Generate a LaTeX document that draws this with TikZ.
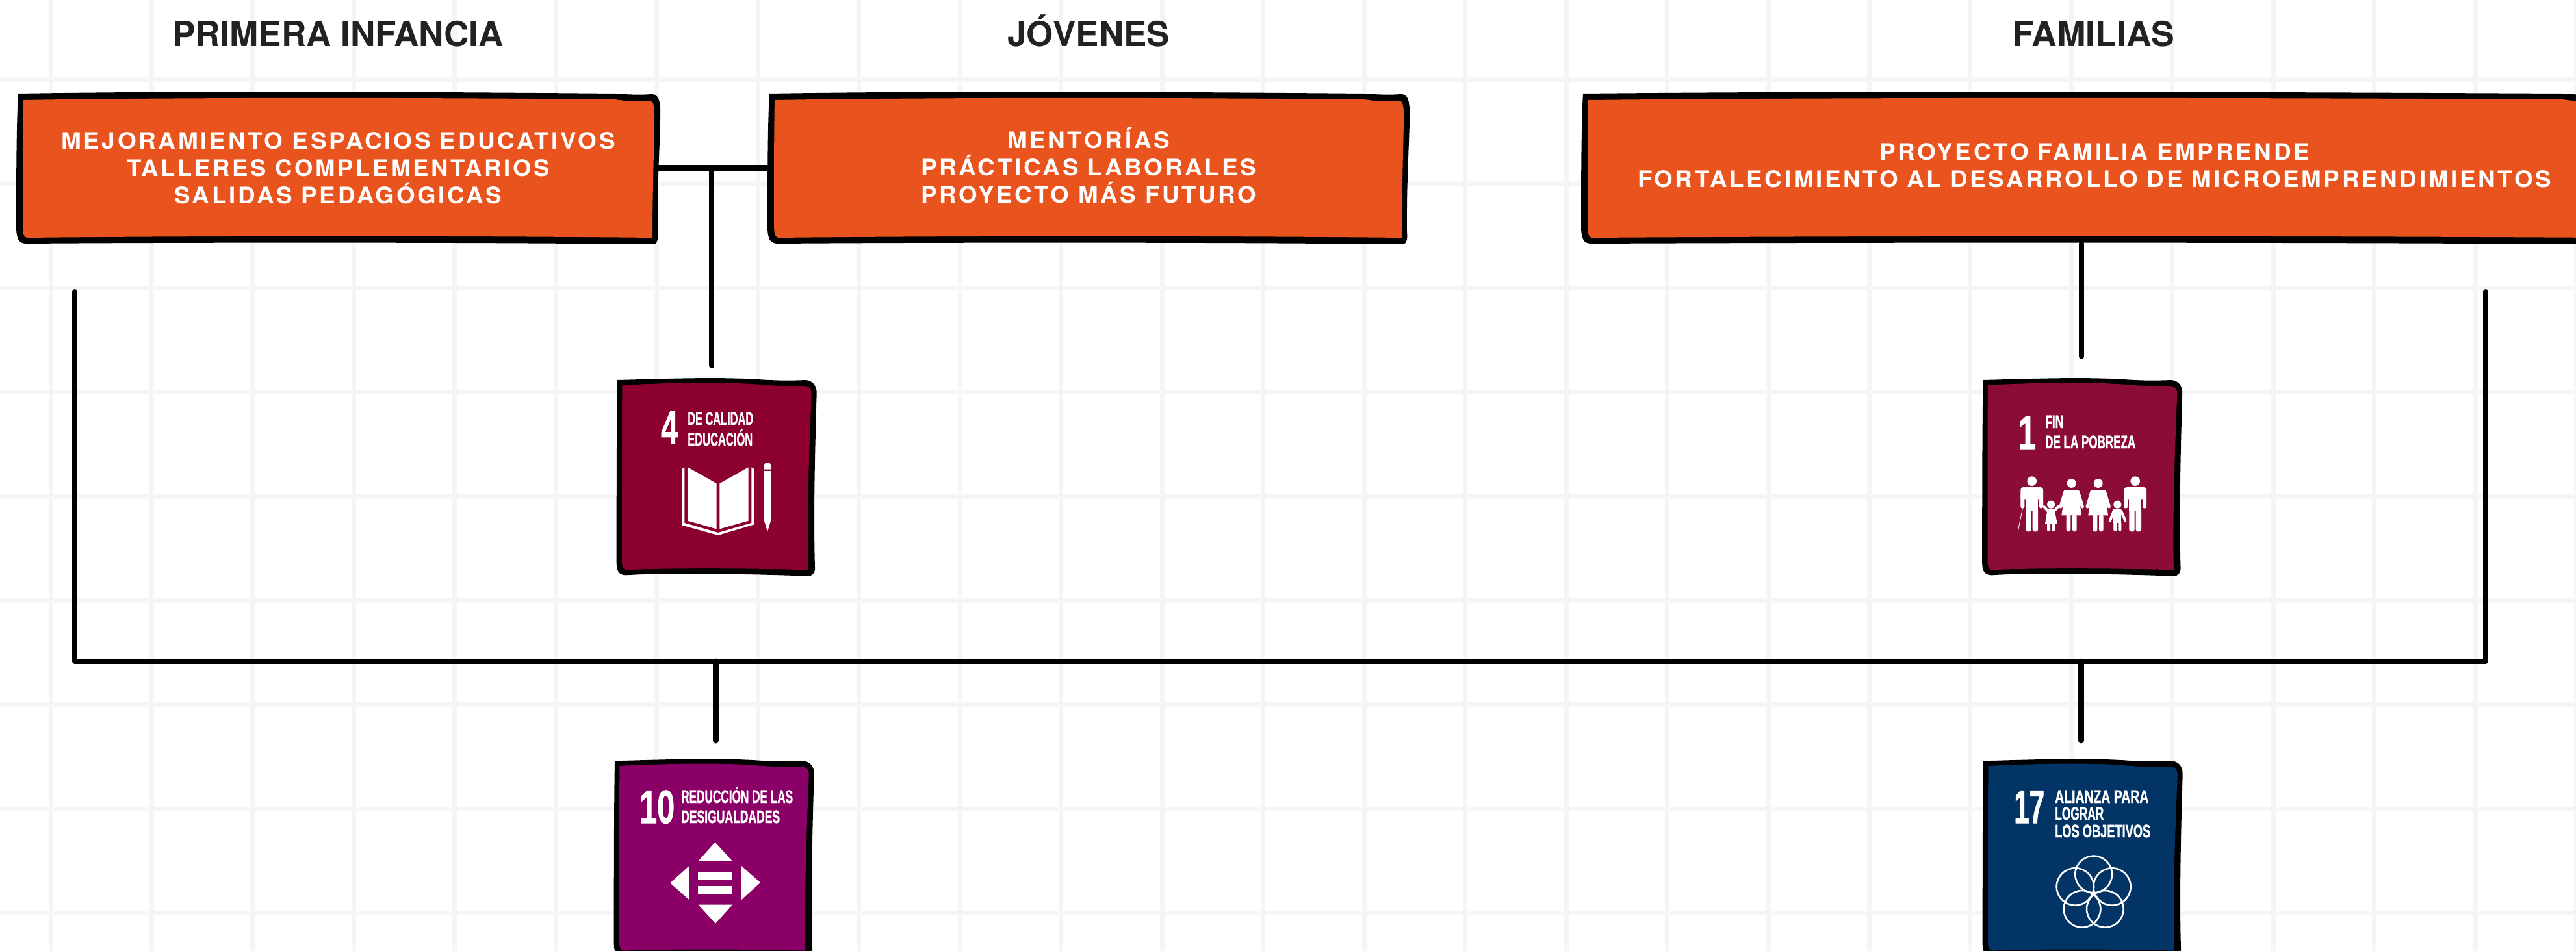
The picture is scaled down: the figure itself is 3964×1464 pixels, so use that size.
\documentclass[tikz,border=0pt]{standalone}
\usepackage{graphicx}
\usepackage{fontspec}
\usetikzlibrary{calc}
\setmainfont{TeX Gyre Heros}
\newfontfamily\boxf[LetterSpace=10]{TeX Gyre Heros}
\newfontfamily\odsf[BoldFeatures={FakeBold=1.5}]{Liberation Sans}
\definecolor{gridc}{HTML}{F5F5F5}
\definecolor{orangec}{HTML}{E9541E}
\definecolor{titlec}{HTML}{222222}
\definecolor{odsfour}{HTML}{8B002D}
\definecolor{odsone}{HTML}{8C0C38}
\definecolor{odsten}{HTML}{8B0066}
\definecolor{odsseventeen}{HTML}{023565}
\newsavebox\xfitbox
\newcommand\xfit[2]{\sbox\xfitbox{#2}\pgfmathsetmacro\xfitr{#1/(\the\wd\xfitbox)}\scalebox{\xfitr}[1]{\usebox\xfitbox}}
\tikzset{
  titletext/.style={anchor=base,inner sep=0,text=titlec,font=\bfseries\fontsize{53}{53}\selectfont},
  boxnode/.style={inner sep=0,align=center,text=white,minimum height=233pt,font=\boxf\bfseries\fontsize{35}{42}\selectfont},
  odsnode/.style={inner sep=0,minimum width=306pt,minimum height=302pt},
  odssmall/.style={anchor=base west,inner sep=0,text=white,font=\odsf\bfseries\fontsize{28}{28}\selectfont},
  odsbig/.style={anchor=base west,inner sep=0,text=white,font=\odsf\bfseries\fontsize{72}{72}\selectfont},
  wire/.style={draw=black,line width=8pt,line cap=round,line join=round},
}
\newcommand\wideshape[4]{% x0, y0, W, colour
 \begin{scope}[shift={(#1,#2)}]
  \def\W{#3}
  \fill[black] (3,2) .. controls (.25*\W,-2) and (.6*\W,-1) .. (\W-70,2)
   .. controls (\W-45,4) and (\W-30,4) .. (\W-12,3)
   .. controls (\W-4,4) and (\W-1,10) .. (\W,25)
   .. controls (\W+1,60) and (\W-5,130) .. (\W-4,215)
   .. controls (\W-3,225) and (\W-4,232) .. (\W-9,234)
   .. controls (.7*\W,231) and (.3*\W,231) .. (14,233)
   .. controls (5,232) and (1,228) .. (0,210)
   .. controls (0,150) and (0,50) .. (3,2) -- cycle;
  \fill[#4] (11,12) .. controls (.25*\W,8) and (.6*\W,8) .. (\W-70,11)
   .. controls (\W-50,14) and (\W-35,15) .. (\W-16,13)
   .. controls (\W-11,14) and (\W-9,19) .. (\W-9,35)
   .. controls (\W-9,70) and (\W-12,150) .. (\W-12,224)
   .. controls (.7*\W,221) and (.3*\W,221) .. (17,224)
   .. controls (13,224) and (10,220) .. (10,205)
   .. controls (10,150) and (10,50) .. (11,12) -- cycle;
 \end{scope}}
\newcommand\odsshape[3]{% shift x, shift y, colour
 \begin{scope}[shift={(#1,#2)},scale=1/3]
  \fill[black] (150,75) .. controls (350,70) and (600,60) .. (800,72)
   .. controls (880,78) and (950,78) .. (1020,75)
   .. controls (1050,78) and (1072,100) .. (1070,140)
   .. controls (1062,400) and (1055,700) .. (1062,940)
   .. controls (1064,965) and (1050,980) .. (1030,980)
   .. controls (800,972) and (400,962) .. (190,976)
   .. controls (160,975) and (146,960) .. (146,920)
   .. controls (146,700) and (146,300) .. (150,75) -- cycle;
  \fill[#3] (172,98) .. controls (400,88) and (600,82) .. (800,95)
   .. controls (860,102) and (950,104) .. (1015,102)
   .. controls (1040,104) and (1048,120) .. (1046,150)
   .. controls (1035,400) and (1025,700) .. (1030,952)
   .. controls (800,945) and (400,942) .. (190,952)
   .. controls (178,950) and (172,940) .. (171,915)
   .. controls (171,700) and (171,300) .. (172,98) -- cycle;
 \end{scope}}
\newcommand\manfig[1]{%
  \fill (#1,542) circle[radius=22];
  \fill[rounded corners=4pt] (#1-52,570) rectangle (#1+52,625);
  \fill[rounded corners=3pt] (#1-52,600) rectangle (#1-34,668);
  \fill[rounded corners=3pt] (#1+34,600) rectangle (#1+52,668);
  \fill (#1-28,590) rectangle (#1+28,680);
  \fill[rounded corners=3pt] (#1-28,670) rectangle (#1-3,775);
  \fill[rounded corners=3pt] (#1+3,670) rectangle (#1+28,775);}
\newcommand\womanfig[1]{%
  \fill (#1,552) circle[radius=21];
  \fill (#1-30,583) -- (#1+30,583) -- (#1+46,700) -- (#1-46,700) -- cycle;
  \draw[white,line width=5pt,line cap=round] (#1-30,592) -- (#1-50,660);
  \draw[white,line width=5pt,line cap=round] (#1+30,592) -- (#1+50,660);
  \fill[rounded corners=3pt] (#1-24,695) rectangle (#1-4,775);
  \fill[rounded corners=3pt] (#1+4,695) rectangle (#1+24,775);}
\begin{document}
\begin{tikzpicture}[x=1pt,y=-1pt]
\clip (0,0) rectangle (3964,1464);
\fill[white] (0,0) rectangle (3964,1464);
% grid
\foreach \k in {0,...,25} \fill[gridc] ({78+155.47*\k-3.5},0) rectangle ({78+155.47*\k+3.5},1464);
\foreach \k in {0,...,8} \fill[gridc] (0,{122.5+160.4*\k-3.5}) rectangle (3964,{122.5+160.4*\k+3.5});
% titles
\node[titletext] (tpi) at (520,71) {\xfit{510}{PRIMERA INFANCIA}};
\node[titletext] (tjo) at (1675,71) {\xfit{250}{JÓVENES}};
\node[titletext] (tfa) at (3222,71) {\xfit{249}{FAMILIAS}};
% hand-drawn boxes
\wideshape{25}{142}{991}{orangec}
\wideshape{1181}{142}{988}{orangec}
\wideshape{2433}{142}{1580}{orangec}
\node[boxnode,minimum width=991pt] (b1) at (520.5,258.5) {\xfit{853}{MEJORAMIENTO ESPACIOS EDUCATIVOS}\\\xfit{651}{TALLERES COMPLEMENTARIOS}\\\xfit{504}{SALIDAS PEDAGÓGICAS}};
\node[boxnode,minimum width=988pt] (b2) at (1675,258.5) {\rule{0pt}{25pt}\smash{\xfit{250}{MENTORÍAS}}\\\xfit{516}{PRÁCTICAS LABORALES}\\\xfit{516}{PROYECTO MÁS FUTURO}};
\node[boxnode,minimum width=1580pt] (b3) at (3223,258.5) {\xfit{662}{PROYECTO FAMILIA EMPRENDE}\\\xfit{1406}{FORTALECIMIENTO AL DESARROLLO DE MICROEMPRENDIMIENTOS}\rule[-7pt]{0pt}{0pt}};
% ODS squares
\odsshape{900}{560}{odsfour}
\odsshape{3001.5}{560}{odsone}
\odsshape{896}{1146.3}{odsten}
\odsshape{3002}{1146.3}{odsseventeen}
\node[odsnode] (ods4) at (1102,734.5) {};
\node[odsnode] (ods1) at (3204,734.5) {};
\node[odsnode] (ods10) at (1098.5,1320) {};
\node[odsnode] (ods17) at (3205,1320) {};
% connectors
\coordinate (j1) at (1095,259);
\coordinate (e4) at (1095,563);
\coordinate (top1) at (3203,375);
\coordinate (e1) at (3203,549);
\coordinate (lt) at (115,449);
\coordinate (lb) at (115,1018);
\coordinate (rb) at (3825,1018);
\coordinate (rt) at (3825,449);
\coordinate (s10) at (1101,1018);
\coordinate (e10) at (1101,1140);
\coordinate (s17) at (3202,1018);
\coordinate (e17) at (3202,1140);
\draw[wire,line width=10pt,line cap=butt] ($(b1.east)+(-4,0.5)$) -- ($(b2.west)+(4,0.5)$);
\draw[wire] (j1) -- (e4);
\draw[wire] (top1) -- (e1);
\draw[wire] (lt) -- (lb) -- (rb) -- (rt);
\draw[wire,line width=9pt] (s10) -- (e10);
\draw[wire,line width=9pt] (s17) -- (e17);
% ODS 4
\node[odsbig] (n4) at (1017,683) {\xfit{26}{4}};
\node[odssmall] (l4a) at (1058,654) {\xfit{101}{DE CALIDAD}};
\node[odssmall] (l4b) at (1058,686) {\xfit{100}{EDUCACIÓN}};
\begin{scope}[shift={(900,560)},scale=1/3,white]
 \fill (447,487) -- (460,478) -- (460,735) -- (615,780) -- (769,735) -- (769,478) -- (782,487) -- (782,742) -- (615,792) -- (447,745) -- cycle;
 \fill (475,478) -- (608,553) -- (608,763) -- (475,725) -- cycle;
 \fill (622,553) -- (755,478) -- (755,725) -- (622,763) -- cycle;
 \fill (827,488) [rounded corners=5pt] -- (827,456) -- (859,456) [sharp corners] -- (859,488) -- cycle;
 \fill (827,495) -- (859,495) -- (859,722) -- (843,775) -- (827,722) -- cycle;
\end{scope}
% ODS 1
\node[odsbig] (n1) at (3105,691) {\xfit{28}{1}};
\node[odssmall] (l1a) at (3147,659) {\xfit{28}{FIN}};
\node[odssmall] (l1b) at (3147,690) {\xfit{139}{DE LA POBREZA}};
\begin{scope}[shift={(3000,560)},scale=1/3,white]
 \manfig{380}
 \manfig{857}
 \womanfig{563}
 \womanfig{686}
 \draw[line width=.8pt] (337,668) -- (316,772);
 % girl
 \fill (468,650) circle[radius=18];
 \fill (452,672) -- (484,672) -- (497,738) -- (441,738) -- cycle;
 \draw[line width=4pt,line cap=round] (456,682) -- (436,660);
 \draw[line width=4pt,line cap=round] (480,682) -- (501,660);
 \fill[rounded corners=2pt] (450,730) rectangle (465,773);
 \fill[rounded corners=2pt] (472,730) rectangle (487,773);
 % boy
 \fill (775,650) circle[radius=18];
 \fill (757,673) rectangle (793,735);
 \draw[line width=4pt,line cap=round] (758,680) -- (741,724);
 \draw[line width=4pt,line cap=round] (792,680) -- (811,724);
 \fill[rounded corners=2pt] (757,730) rectangle (772,773);
 \fill[rounded corners=2pt] (778,730) rectangle (793,773);
\end{scope}
% ODS 10
\node[odsbig] (n10) at (984,1267) {\xfit{54}{10}};
\node[odssmall] (l10a) at (1048,1236) {\xfit{172}{REDUCCIÓN DE LAS}};
\node[odssmall] (l10b) at (1048,1267) {\xfit{152}{DESIGUALDADES}};
\begin{scope}[shift={(900,1130)},scale=1/3,white]
 \fill (601,500) -- (524,586) -- (680,586) -- cycle;
 \fill (394,688) -- (481,609) -- (481,765) -- cycle;
 \fill (810,686) -- (723,609) -- (723,765) -- cycle;
 \fill (603,875) -- (524,788) -- (681,788) -- cycle;
 \fill (522,635) rectangle (682,674);
 \fill (522,702) rectangle (682,741);
\end{scope}
% ODS 17
\node[odsbig] (n17) at (3099,1267) {\xfit{47}{17}};
\node[odssmall] (l17a) at (3162,1236) {\xfit{144}{ALIANZA PARA}};
\node[odssmall] (l17b) at (3162,1262) {\xfit{75}{LOGRAR}};
\node[odssmall] (l17c) at (3162,1289) {\xfit{147}{LOS OBJETIVOS}};
\begin{scope}[shift={(3000,1130)},scale=1/3,white]
 \draw[line width=2.6pt] (665,648) circle[radius=85];
 \draw[line width=2.6pt] (580,705) circle[radius=86];
 \draw[line width=2.6pt] (750,705) circle[radius=86];
 \draw[line width=2.6pt] (612,808) circle[radius=85];
 \draw[line width=2.6pt] (718,808) circle[radius=85];
\end{scope}
\end{tikzpicture}
\end{document}
